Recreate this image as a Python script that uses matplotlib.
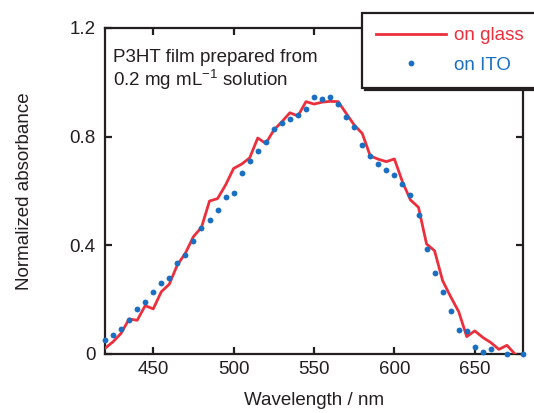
import numpy as np
import matplotlib
matplotlib.use("Agg")
import matplotlib.pyplot as plt

plt.rcParams["font.family"] = ["Liberation Sans", "DejaVu Sans"]
plt.rcParams["mathtext.fontset"] = "custom"
plt.rcParams["mathtext.rm"] = "Liberation Sans"
plt.rcParams["mathtext.it"] = "Liberation Sans:italic"

ink = "#231f20"
red = "#ec2f3d"
blue = "#1a6fc0"
fs = 13.5

# red line: film on glass
glass_wl = [420, 425, 430, 435, 440, 445, 450, 455, 460, 465, 470, 475, 480,
            485, 490, 495, 500, 505, 510, 515, 520, 525, 530, 535, 540, 545,
            550, 555, 560, 565, 570, 575, 580, 585, 590, 595, 600, 605, 610,
            615, 620, 625, 630, 635, 640, 645, 650, 655, 660, 665, 670, 675, 680]
glass_abs = [0.021, 0.045, 0.076, 0.129, 0.124, 0.178, 0.166, 0.229, 0.257,
             0.328, 0.371, 0.432, 0.466, 0.563, 0.572, 0.622, 0.683, 0.699,
             0.722, 0.795, 0.775, 0.824, 0.855, 0.888, 0.876, 0.929, 0.920,
             0.927, 0.930, 0.929, 0.886, 0.843, 0.812, 0.729, 0.717, 0.708,
             0.718, 0.634, 0.567, 0.540, 0.405, 0.380, 0.270, 0.211, 0.156,
             0.064, 0.085, 0.061, 0.042, 0.017, 0.032, 0.000, -0.02]

# blue dots: film on ITO
ito_wl = [420, 425, 430, 435, 440, 445, 450, 455, 460, 465, 470, 475, 480,
          485, 490, 495, 500, 505, 510, 515, 520, 525, 530, 535, 540, 545,
          550, 555, 560, 565, 570, 575, 580, 585, 590, 595, 600, 605, 610,
          615, 620, 625, 630, 635, 640, 645, 650, 655, 660, 670, 680]
ito_abs = [0.053, 0.071, 0.093, 0.124, 0.164, 0.190, 0.227, 0.262, 0.278,
           0.336, 0.365, 0.415, 0.462, 0.492, 0.529, 0.577, 0.591, 0.667,
           0.710, 0.747, 0.781, 0.827, 0.851, 0.864, 0.878, 0.901, 0.945,
           0.937, 0.947, 0.921, 0.873, 0.837, 0.770, 0.729, 0.700, 0.677,
           0.659, 0.626, 0.586, 0.512, 0.387, 0.297, 0.228, 0.159, 0.088,
           0.085, 0.027, 0.007, 0.017, 0.0, 0.0]

fig = plt.figure(figsize=(5.34, 4.13), dpi=100)
ax = fig.add_axes([105 / 534, 1 - 354 / 413, 418 / 534, 326 / 413])

ax.plot(glass_wl, glass_abs, color=red, lw=2.0, label="on glass", zorder=3)
ax.plot(ito_wl, ito_abs, ls="none", marker="o", ms=4.2, mec="none",
        color=blue, label="on ITO", zorder=4, clip_on=False)

ax.set_xlim(420, 680)
ax.set_ylim(0, 1.2)
ax.set_xticks([450, 500, 550, 600, 650])
ax.set_yticks([0, 0.4, 0.8, 1.2])
ax.set_yticklabels(["0", "0.4", "0.8", "1.2"])

for s in ax.spines.values():
    s.set_linewidth(1.6)
    s.set_color(ink)
ax.tick_params(direction="in", length=5, width=1.6, color=ink,
               top=True, right=True, labelsize=fs, labelcolor=ink)
ax.tick_params(axis="y", pad=7)
ax.tick_params(axis="x", pad=5)

ax.set_xlabel("Wavelength / nm", fontsize=fs, color=ink, labelpad=10)
ax.set_ylabel("Normalized absorbance", fontsize=fs, color=ink, labelpad=26)

ax.text(0.019, 0.935, "P3HT film prepared from\n0.2 mg mL$^{-1}$ solution",
        transform=ax.transAxes, fontsize=fs, color=ink, va="top",
        ha="left", linespacing=1.1)

leg = ax.legend(loc="upper left", bbox_to_anchor=(362 / 534, 1 - 13 / 413, 0.4, 0),
                bbox_transform=fig.transFigure, mode="expand",
                fontsize=fs, frameon=True, fancybox=False,
                shadow={"color": ink, "alpha": 1},
                handlelength=3.75, handletextpad=0.43, borderpad=0.75,
                labelspacing=0.65, numpoints=1, borderaxespad=0)
leg.get_frame().set_edgecolor(ink)
leg.get_frame().set_linewidth(1.6)
leg.set_zorder(10)
for t, c in zip(leg.get_texts(), [red, blue]):
    t.set_color(c)

fig.savefig("out.png", dpi=100)
